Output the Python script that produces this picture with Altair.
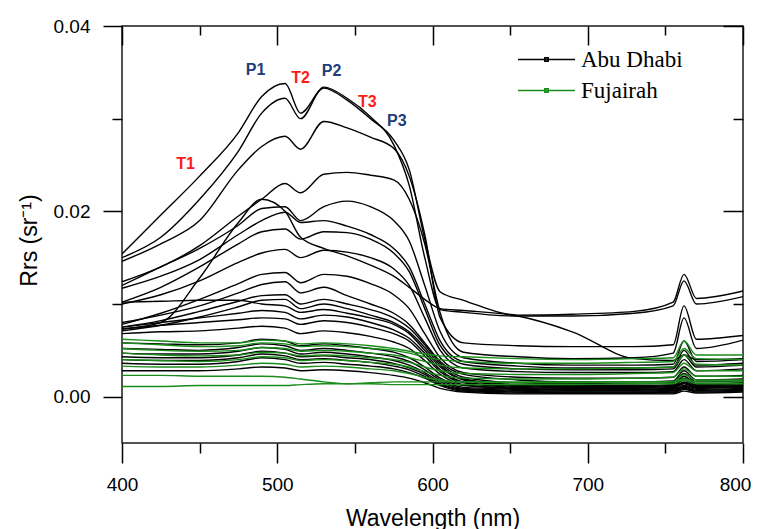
import altair as alt
import pandas as pd

W = [400, 425, 450, 475, 490, 505, 515, 530, 545, 560, 575, 585, 595, 605, 620, 655, 690, 730, 755, 762, 770, 800]

# Abu Dhabi spectra, Rrs (sr^-1)
ad_01 = [0.0154, 0.0196, 0.0238, 0.0285, 0.0324, 0.0338, 0.0306, 0.0333, 0.0320, 0.0300, 0.0277, 0.0245, 0.0170, 0.0113, 0.0104, 0.0088, 0.0089, 0.0092, 0.0102, 0.0132, 0.0106, 0.0114]
ad_02 = [0.0150, 0.0172, 0.0213, 0.0265, 0.0306, 0.0322, 0.0300, 0.0334, 0.0322, 0.0302, 0.0272, 0.0228, 0.0150, 0.0094, 0.0091, 0.0087, 0.0087, 0.0090, 0.0098, 0.0125, 0.0100, 0.0108]
ad_03 = [0.0146, 0.0165, 0.0190, 0.0245, 0.0270, 0.0281, 0.0267, 0.0297, 0.0290, 0.0280, 0.0268, 0.0238, 0.0175, 0.0085, 0.0058, 0.0055, 0.0054, 0.0054, 0.0056, 0.0098, 0.0062, 0.0066]
ad_04 = [0.0124, 0.0140, 0.0163, 0.0195, 0.0213, 0.0230, 0.0220, 0.0240, 0.0242, 0.0239, 0.0234, 0.0213, 0.0165, 0.0090, 0.0048, 0.0043, 0.0041, 0.0042, 0.0047, 0.0085, 0.0052, 0.0061]
ad_05 = [0.0073, 0.0080, 0.0128, 0.0188, 0.0213, 0.0200, 0.0172, 0.0160, 0.0152, 0.0142, 0.0130, 0.0118, 0.0105, 0.0095, 0.0093, 0.0087, 0.0070, 0.0041, 0.0039, 0.0045, 0.0040, 0.0041]
ad_06 = [0.0120, 0.0140, 0.0160, 0.0185, 0.0203, 0.0205, 0.0190, 0.0205, 0.0211, 0.0205, 0.0190, 0.0168, 0.0120, 0.0070, 0.0042, 0.0036, 0.0034, 0.0034, 0.0035, 0.0060, 0.0038, 0.0040]
ad_07 = [0.0117, 0.0130, 0.0148, 0.0175, 0.0190, 0.0199, 0.0188, 0.0190, 0.0184, 0.0175, 0.0160, 0.0140, 0.0100, 0.0060, 0.0038, 0.0033, 0.0031, 0.0031, 0.0032, 0.0050, 0.0034, 0.0036]
ad_08 = [0.0102, 0.0118, 0.0140, 0.0165, 0.0178, 0.0181, 0.0170, 0.0178, 0.0177, 0.0170, 0.0155, 0.0135, 0.0095, 0.0055, 0.0035, 0.0030, 0.0029, 0.0029, 0.0030, 0.0045, 0.0032, 0.0034]
ad_09 = [0.0100, 0.0110, 0.0125, 0.0145, 0.0155, 0.0159, 0.0150, 0.0158, 0.0156, 0.0150, 0.0138, 0.0120, 0.0085, 0.0050, 0.0031, 0.0027, 0.0026, 0.0026, 0.0027, 0.0040, 0.0028, 0.0030]
ad_10 = [0.0078, 0.0090, 0.0105, 0.0122, 0.0132, 0.0134, 0.0123, 0.0132, 0.0130, 0.0122, 0.0110, 0.0095, 0.0068, 0.0042, 0.0026, 0.0021, 0.0020, 0.0020, 0.0021, 0.0032, 0.0022, 0.0023]
ad_11 = [0.0080, 0.0088, 0.0098, 0.0112, 0.0121, 0.0124, 0.0112, 0.0118, 0.0109, 0.0100, 0.0090, 0.0078, 0.0058, 0.0038, 0.0024, 0.0018, 0.0016, 0.0016, 0.0017, 0.0028, 0.0018, 0.0019]
ad_12 = [0.0075, 0.0082, 0.0092, 0.0103, 0.0109, 0.0110, 0.0100, 0.0105, 0.0100, 0.0094, 0.0085, 0.0074, 0.0056, 0.0036, 0.0021, 0.0015, 0.0014, 0.0014, 0.0015, 0.0025, 0.0016, 0.0017]
ad_13 = [0.0071, 0.0077, 0.0086, 0.0097, 0.0104, 0.0105, 0.0095, 0.0100, 0.0095, 0.0088, 0.0080, 0.0070, 0.0053, 0.0034, 0.0019, 0.0013, 0.0012, 0.0012, 0.0013, 0.0022, 0.0014, 0.0015]
ad_14 = [0.0102, 0.0103, 0.0104, 0.0104, 0.0100, 0.0098, 0.0091, 0.0094, 0.0090, 0.0085, 0.0078, 0.0068, 0.0050, 0.0032, 0.0018, 0.0012, 0.0011, 0.0011, 0.0012, 0.0020, 0.0013, 0.0014]
ad_15 = [0.0075, 0.0080, 0.0085, 0.0090, 0.0093, 0.0091, 0.0084, 0.0088, 0.0086, 0.0080, 0.0072, 0.0063, 0.0047, 0.0029, 0.0016, 0.0011, 0.0010, 0.0010, 0.0011, 0.0018, 0.0012, 0.0013]
ad_16 = [0.0073, 0.0077, 0.0080, 0.0083, 0.0085, 0.0084, 0.0078, 0.0082, 0.0080, 0.0075, 0.0068, 0.0060, 0.0044, 0.0027, 0.0015, 0.0010, 0.0009, 0.0009, 0.0010, 0.0016, 0.0011, 0.0012]
ad_17 = [0.0068, 0.0070, 0.0071, 0.0074, 0.0076, 0.0074, 0.0068, 0.0071, 0.0069, 0.0065, 0.0059, 0.0052, 0.0039, 0.0024, 0.0013, 0.0009, 0.0008, 0.0008, 0.0009, 0.0015, 0.0010, 0.0011]
ad_18 = [0.0058, 0.0057, 0.0056, 0.0058, 0.0062, 0.0060, 0.0055, 0.0057, 0.0055, 0.0052, 0.0048, 0.0042, 0.0032, 0.0020, 0.0012, 0.0009, 0.0008, 0.0008, 0.0009, 0.0014, 0.0010, 0.0011]
ad_19 = [0.0052, 0.0051, 0.0050, 0.0053, 0.0057, 0.0055, 0.0050, 0.0052, 0.0050, 0.0047, 0.0043, 0.0038, 0.0029, 0.0018, 0.0010, 0.0008, 0.0007, 0.0007, 0.0008, 0.0012, 0.0009, 0.0010]
ad_20 = [0.0047, 0.0046, 0.0046, 0.0049, 0.0053, 0.0051, 0.0046, 0.0048, 0.0046, 0.0043, 0.0039, 0.0034, 0.0026, 0.0016, 0.0009, 0.0007, 0.0006, 0.0006, 0.0007, 0.0011, 0.0008, 0.0009]
ad_21 = [0.0043, 0.0042, 0.0042, 0.0045, 0.0049, 0.0047, 0.0043, 0.0044, 0.0042, 0.0040, 0.0036, 0.0031, 0.0024, 0.0014, 0.0008, 0.0006, 0.0005, 0.0005, 0.0006, 0.0010, 0.0007, 0.0008]
ad_22 = [0.0040, 0.0039, 0.0039, 0.0042, 0.0046, 0.0044, 0.0040, 0.0041, 0.0039, 0.0037, 0.0033, 0.0029, 0.0022, 0.0013, 0.0007, 0.0005, 0.0004, 0.0004, 0.0005, 0.0009, 0.0006, 0.0007]
ad_23 = [0.0036, 0.0035, 0.0035, 0.0038, 0.0042, 0.0040, 0.0036, 0.0037, 0.0035, 0.0033, 0.0030, 0.0026, 0.0020, 0.0012, 0.0006, 0.0004, 0.0004, 0.0004, 0.0004, 0.0008, 0.0005, 0.0006]
ad_24 = [0.0028, 0.0028, 0.0028, 0.0030, 0.0032, 0.0031, 0.0028, 0.0029, 0.0028, 0.0026, 0.0023, 0.0020, 0.0015, 0.0009, 0.0005, 0.0003, 0.0003, 0.0003, 0.0003, 0.0006, 0.0004, 0.0005]

# Fujairah spectra, Rrs (sr^-1)
fj_01 = [0.0062, 0.0060, 0.0058, 0.0058, 0.0061, 0.0060, 0.0057, 0.0058, 0.0057, 0.0055, 0.0052, 0.0049, 0.0046, 0.0044, 0.0043, 0.0041, 0.0040, 0.0041, 0.0042, 0.0060, 0.0045, 0.0045]
fj_02 = [0.0058, 0.0056, 0.0054, 0.0055, 0.0058, 0.0057, 0.0054, 0.0055, 0.0054, 0.0052, 0.0050, 0.0047, 0.0043, 0.0040, 0.0038, 0.0036, 0.0036, 0.0037, 0.0038, 0.0052, 0.0041, 0.0040]
fj_03 = [0.0052, 0.0050, 0.0049, 0.0050, 0.0053, 0.0052, 0.0049, 0.0050, 0.0049, 0.0047, 0.0045, 0.0042, 0.0038, 0.0034, 0.0031, 0.0030, 0.0030, 0.0031, 0.0032, 0.0045, 0.0035, 0.0034]
fj_04 = [0.0047, 0.0045, 0.0044, 0.0045, 0.0048, 0.0047, 0.0044, 0.0045, 0.0044, 0.0042, 0.0040, 0.0037, 0.0032, 0.0028, 0.0025, 0.0024, 0.0024, 0.0025, 0.0026, 0.0036, 0.0028, 0.0028]
fj_05 = [0.0040, 0.0039, 0.0038, 0.0040, 0.0043, 0.0042, 0.0039, 0.0040, 0.0039, 0.0037, 0.0035, 0.0032, 0.0027, 0.0023, 0.0020, 0.0019, 0.0019, 0.0020, 0.0021, 0.0030, 0.0022, 0.0022]
fj_06 = [0.0033, 0.0032, 0.0032, 0.0034, 0.0036, 0.0035, 0.0032, 0.0033, 0.0032, 0.0030, 0.0028, 0.0025, 0.0021, 0.0018, 0.0016, 0.0015, 0.0015, 0.0016, 0.0016, 0.0024, 0.0018, 0.0018]
fj_07 = [0.0023, 0.0023, 0.0022, 0.0022, 0.0022, 0.0021, 0.0019, 0.0016, 0.0014, 0.0014, 0.0013, 0.0013, 0.0013, 0.0013, 0.0013, 0.0013, 0.0013, 0.0014, 0.0014, 0.0018, 0.0014, 0.0014]
fj_08 = [0.0011, 0.0011, 0.0012, 0.0012, 0.0012, 0.0012, 0.0013, 0.0014, 0.0014, 0.0015, 0.0016, 0.0016, 0.0016, 0.0016, 0.0016, 0.0016, 0.0016, 0.0016, 0.0016, 0.0019, 0.0016, 0.0016]

abu_dhabi = [ad_01, ad_02, ad_03, ad_04, ad_05, ad_06, ad_07, ad_08, ad_09, ad_10, ad_11, ad_12,
             ad_13, ad_14, ad_15, ad_16, ad_17, ad_18, ad_19, ad_20, ad_21, ad_22, ad_23, ad_24]
fujairah = [fj_01, fj_02, fj_03, fj_04, fj_05, fj_06, fj_07, fj_08]

# Annotations
p_labels = ["P1", "P2", "P3"]
p_wl = [486, 535, 577]
p_val = [0.0352, 0.0351, 0.0298]
t_labels = ["T1", "T2", "T3"]
t_wl = [441, 515, 558]
t_val = [0.0251, 0.0344, 0.0318]

sites = ["Abu Dhabi", "Fujairah"]
site_colors = ["#000000", "#1a8c1a"]

x_major = [400, 500, 600, 700, 800]
x_minor = [450, 550, 650, 750]
y_major = [0.0, 0.02, 0.04]
y_minor = [0.01, 0.03]


def long_table(curves, site, prefix):
    rows = []
    for i, vals in enumerate(curves):
        for w, v in zip(W, vals):
            rows.append({"curve": f"{prefix}{i:02d}", "site": site, "wl": w, "rrs": v})
    return pd.DataFrame(rows)


df_ad = long_table(abu_dhabi, sites[0], "AD")
df_fj = long_table(fujairah, sites[1], "FJ")
df_p = pd.DataFrame({"label": p_labels, "wl": p_wl, "val": p_val})
df_t = pd.DataFrame({"label": t_labels, "wl": t_wl, "val": t_val})

PW, PH = 621, 417
xscale = alt.Scale(domain=[400, 800], nice=False, zero=False)
yscale = alt.Scale(domain=[-0.005, 0.04], nice=False, zero=False)
cscale = alt.Scale(domain=sites, range=site_colors)

FONT = "Liberation Sans"
base_axis = dict(domain=False, grid=False, tickColor="black", tickWidth=1.5)

x_bottom_major = alt.Axis(orient="bottom", values=x_major, tickSize=20, format="d",
                          labelFont=FONT, labelFontSize=19, labelColor="black", labelPadding=12,
                          labelFlush=False,
                          labelOffset={"condition": {"test": "datum.value == 800", "value": -8},
                                       "value": 0},
                          title="Wavelength (nm)", titleFont=FONT, titleFontSize=23,
                          titleFontWeight="normal", titleColor="black", titlePadding=13,
                          **base_axis)
x_bottom_minor = alt.Axis(orient="bottom", values=x_minor, tickSize=10, labels=False,
                          title=None, **base_axis)
x_top_major = alt.Axis(orient="bottom", offset=-PH, values=x_major, tickSize=19, labels=False,
                       title=None, **base_axis)
x_top_minor = alt.Axis(orient="bottom", offset=-PH, values=x_minor, tickSize=9, labels=False,
                       title=None, **base_axis)

y_left_major = alt.Axis(orient="left", values=y_major, tickSize=19, format=".2f",
                        labelFont=FONT, labelFontSize=19, labelColor="black", labelPadding=13,
                        labelFlush=False,
                        title="Rrs (sr\u207b\u00b9)", titleFont=FONT, titleFontSize=23,
                        titleFontWeight="normal", titleColor="black", titlePadding=12,
                        titleY=214,
                        **base_axis)
y_left_minor = alt.Axis(orient="left", values=y_minor, tickSize=10, labels=False,
                        title=None, **base_axis)
y_right_major = alt.Axis(orient="left", offset=-PW, values=y_major, tickSize=20, labels=False,
                         title=None, **base_axis)
y_right_minor = alt.Axis(orient="left", offset=-PW, values=y_minor, tickSize=10, labels=False,
                         title=None, **base_axis)

legend = alt.Legend(title=None, orient="none", legendX=413, legendY=22,
                    symbolType="M-4,0L4,0M-0.24,-0.24L0.24,-0.24L0.24,0.24L-0.24,0.24Z",
                    symbolSize=203, symbolStrokeWidth=1.5,
                    labelFont="Liberation Serif", labelFontSize=23, labelColor="black",
                    labelOffset=23, rowPadding=7, padding=0)


def lines(df, xaxis, yaxis):
    return alt.Chart(df).mark_line(strokeWidth=1.4, interpolate="monotone", clip=True).encode(
        x=alt.X("wl:Q", scale=xscale, axis=xaxis),
        y=alt.Y("rrs:Q", scale=yscale, axis=yaxis),
        color=alt.Color("site:N", scale=cscale, legend=legend),
        detail="curve:N",
    )


def labels(df, color, xaxis, yaxis):
    return alt.Chart(df).mark_text(font=FONT, fontSize=16, fontWeight="bold", color=color,
                                   align="center", baseline="middle").encode(
        x=alt.X("wl:Q", scale=xscale, axis=xaxis),
        y=alt.Y("val:Q", scale=yscale, axis=yaxis),
        text="label:N",
    )


chart = alt.layer(
    lines(df_ad, x_bottom_major, y_left_major),
    lines(df_fj, x_bottom_minor, y_left_minor),
    labels(df_p, "#1f3d7a", x_top_major, y_right_major),
    labels(df_t, "#ff1a1a", x_top_minor, y_right_minor),
).resolve_axis(x="independent", y="independent").properties(
    width=PW, height=PH,
    autosize=alt.AutoSizeParams(type="none"),
    padding={"left": 114, "top": 18, "right": 10, "bottom": 86},
).configure_view(stroke="#1a1a1a", strokeWidth=1.5)

chart.save("out.html", embed_options={"renderer": "svg", "actions": False})
